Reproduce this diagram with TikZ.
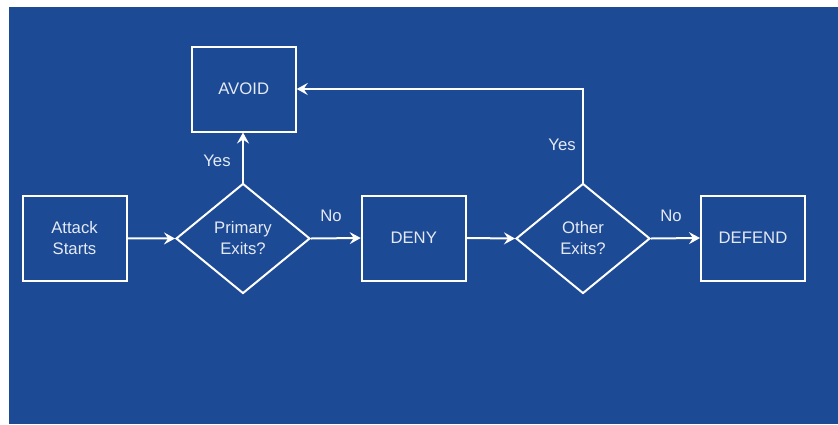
\documentclass[tikz,border=0pt]{standalone}
\usepackage{fontspec}
\setmainfont{Liberation Sans}
\usetikzlibrary{shapes.geometric,arrows.meta}
\definecolor{bg}{RGB}{29,74,148}
\definecolor{txt}{RGB}{228,234,245}
\begin{document}
\begin{tikzpicture}[x=1pt,y=-1pt,
  every node/.style={font=\fontsize{16.7}{21}\selectfont,text=txt},
  boxnode/.style={draw=white,line width=2pt,minimum width=104pt,minimum height=85pt,inner sep=0pt,align=center},
  decnode/.style={draw=white,line width=2pt,diamond,minimum width=134pt,minimum height=110pt,inner sep=0pt,align=center},
  conn/.style={draw=white,line width=2pt,-{Stealth[length=11pt,width=12pt,inset=4pt]}},
  lbl/.style={inner sep=0pt}]
\useasboundingbox (0,0) rectangle (838,424);
\fill[bg] (9,7) rectangle (838,424);
\node[boxnode] (start) at (74.5,238) {Attack\\Starts};
\node[decnode] (prim) at (243,238.5) {Primary\\Exits?};
\node[boxnode] (deny) at (413.7,238) {DENY};
\node[decnode] (other) at (583,238.5) {Other\\Exits?};
\node[boxnode] (defend) at (753,238) {DEFEND};
\node[boxnode] (avoid) at (243.7,89) {AVOID};
\coordinate (corner) at (583,89);
\draw[conn] (start) -- (prim.west);
\draw[conn] (prim.east) -- (deny.west);
\draw[conn] (deny.east) -- (other.west);
\draw[conn] (other.east) -- (defend.west);
\draw[conn] (prim.north) -- (prim.north |- avoid.south);
\draw[conn] (other.north) -- (corner) -- (avoid.east);
\node[lbl] (no1) at (331,216) {No};
\node[lbl] (no2) at (671,216) {No};
\node[lbl] (yes1) at (217,161) {Yes};
\node[lbl] (yes2) at (562,145) {Yes};
\end{tikzpicture}
\end{document}
